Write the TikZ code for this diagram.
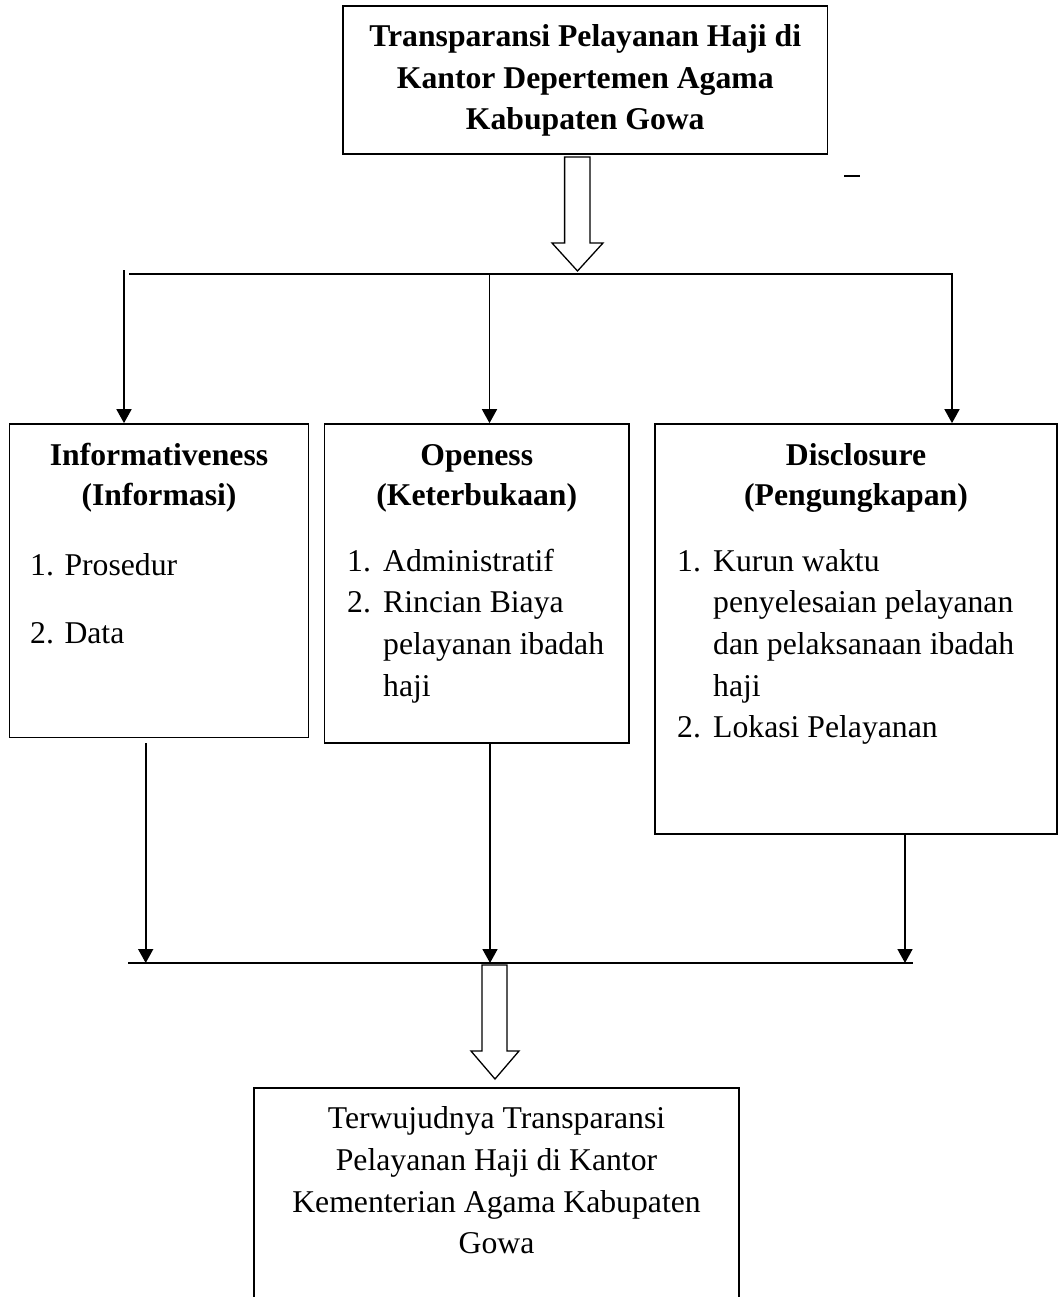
\documentclass[tikz,border=0pt]{standalone}
\usepackage{fontspec}
\setmainfont{Liberation Serif}
\usetikzlibrary{arrows.meta}
\begin{document}
\begin{tikzpicture}[x=1pt,y=-1pt,
  box/.style={draw, line width=1.7pt, inner sep=0pt},
  txt/.style={inner sep=0pt, anchor=base, font=\fontsize{31.7}{41.7}\selectfont},
  txtl/.style={txt, anchor=base west},
  bld/.style={txt, font=\fontsize{31.7}{41.7}\selectfont\bfseries},
  conn/.style={line width=1.7pt},
  arr/.style={conn, -{Triangle[width=15pt,length=14pt]}},
  hollow/.style={draw, line width=1.3pt, fill=white, line join=miter}]
\useasboundingbox (0,0) rectangle (1058,1297);

% boxes
\node[box, minimum width=484.5pt, minimum height=148pt] (top) at (585.25,80) {};
\node[box, minimum width=299pt, minimum height=313.5pt] (left) at (159,580.75) {};
\node[box, minimum width=304.5pt, minimum height=319pt] (mid) at (476.75,583.5) {};
\node[box, minimum width=402pt, minimum height=410pt] (right) at (856,629) {};
\node[box, minimum width=485pt, minimum height=232pt] (bot) at (496.5,1204) {};

% top box text
\node[bld] (t1) at (585.25,47) {Transparansi Pelayanan Haji di};
\node[bld] (t2) at (585.25,89) {Kantor Depertemen Agama};
\node[bld] (t3) at (585.25,130) {Kabupaten Gowa};

% stray dash
\coordinate (dA) at (844,176);
\coordinate (dB) at (860,176);
\draw[conn] (dA) -- (dB);

% top hollow arrow
\draw[hollow] (564.6,157) -- (590,157) -- (590,243) -- (603,243) -- (577.5,271)
  -- (552,243) -- (564.6,243) -- cycle;

% top bus
\coordinate (busL) at (129,274);
\coordinate (busR) at (952,274);
\coordinate (a1) at (124,270);
\coordinate (m1) at (489.5,274);
\coordinate (r1) at (952,273);
\draw[conn] (busL) -- (busR);
\draw[arr] (a1) -- (a1 |- left.north);
\draw[arr] (m1) -- (m1 |- mid.north);
\draw[arr] (r1) -- (r1 |- right.north);

% left box text
\node[bld] (l1) at (159,465) {Informativeness};
\node[bld] (l2) at (159,505) {(Informasi)};
\node[txtl] (l3) at (30,575) {1. Prosedur};
\node[txtl] (l4) at (30,643) {2. Data};

% middle box text
\node[bld] (m1h) at (476.75,465) {Openess};
\node[bld] (m2h) at (476.75,505) {(Keterbukaan)};
\node[txtl] (mn1) at (347,571) {1.};
\node[txtl] (mt1) at (383,571) {Administratif};
\node[txtl] (mn2) at (347,612.7) {2.};
\node[txtl] (mt2) at (383,612.7) {Rincian Biaya};
\node[txtl] (mt3) at (383,654.4) {pelayanan ibadah};
\node[txtl] (mt4) at (383,696) {haji};

% right box text
\node[bld] (r1h) at (856,465) {Disclosure};
\node[bld] (r2h) at (856,505) {(Pengungkapan)};
\node[txtl] (rn1) at (677,571) {1.};
\node[txtl] (rt1) at (713,571) {Kurun waktu};
\node[txtl] (rt2) at (713,612.7) {penyelesaian pelayanan};
\node[txtl] (rt3) at (713,654.4) {dan pelaksanaan ibadah};
\node[txtl] (rt4) at (713,696) {haji};
\node[txtl] (rn2) at (677,737.8) {2.};
\node[txtl] (rt5) at (713,737.8) {Lokasi Pelayanan};

% bottom bus
\coordinate (bbL) at (128,963);
\coordinate (bbR) at (913,963);
\coordinate (l2s) at (145.7,743);
\coordinate (m2s) at (490,743);
\coordinate (r2s) at (905,834);
\draw[conn] (bbL) -- (bbR);
\draw[arr] (l2s) -- (l2s |- bbL);
\draw[arr] (m2s) -- (m2s |- bbL);
\draw[arr] (r2s) -- (r2s |- bbL);

% bottom hollow arrow
\draw[hollow] (482,965) -- (507,965) -- (507,1051) -- (519,1051) -- (495,1079)
  -- (471,1051) -- (482,1051) -- cycle;

% bottom box text
\node[txt] (b1) at (496.5,1128) {Terwujudnya Transparansi};
\node[txt] (b2) at (496.5,1170) {Pelayanan Haji di Kantor};
\node[txt] (b3) at (496.5,1212) {Kementerian Agama Kabupaten};
\node[txt] (b4) at (496.5,1253) {Gowa};
\end{tikzpicture}
\end{document}
